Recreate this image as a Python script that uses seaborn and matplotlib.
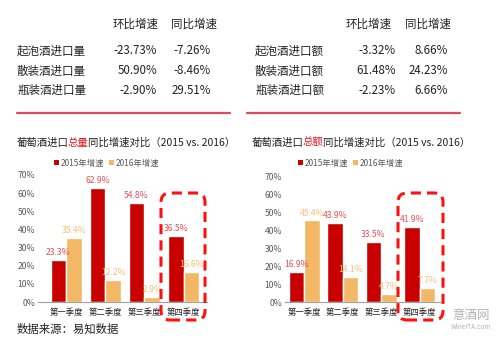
import matplotlib
matplotlib.use("Agg")
import matplotlib.pyplot as plt
import matplotlib.transforms as mtransforms
from matplotlib.patches import FancyBboxPatch, Patch
from matplotlib.lines import Line2D
import seaborn as sns
import pandas as pd

# ---------------- data ----------------
quarters = ["第一季度", "第二季度", "第三季度", "第四季度"]
series_names = ["2015年增速", "2016年增速"]
volume_2015 = [23.3, 62.9, 54.8, 36.5]
volume_2016 = [35.4, 12.2, 2.9, 16.6]
value_2015 = [16.9, 43.9, 33.5, 41.9]
value_2016 = [45.4, 14.1, 4.7, 7.7]
y_ticks = [0, 10, 20, 30, 40, 50, 60, 70]
y_tick_labels = ["0%", "10%", "20%", "30%", "40%", "50%", "60%", "70%"]

table_headers = ["环比增速", "同比增速"]
table_left_rows = ["起泡酒进口量", "散装酒进口量", "瓶装酒进口量"]
table_left_mom = ["-23.73%", "50.90%", "-2.90%"]
table_left_yoy = ["-7.26%", "-8.46%", "29.51%"]
table_right_rows = ["起泡酒进口额", "散装酒进口额", "瓶装酒进口额"]
table_right_mom = ["-3.32%", "61.48%", "-2.23%"]
table_right_yoy = ["8.66%", "24.23%", "6.66%"]

title_left = ["葡萄酒进口", "总量", "同比增速对比（2015 vs. 2016）"]
title_right = ["葡萄酒进口", "总额", "同比增速对比（2015 vs. 2016）"]
source_text = "数据来源：易知数据"

# ---------------- style ----------------
sns.set_theme(style="white")
plt.rcParams['font.family'] = ['Noto Sans CJK SC', 'DejaVu Sans']
plt.rcParams['axes.unicode_minus'] = False

RED = "#c80000"
ORANGE = "#f3b866"
RED_LBL = "#e0505a"
ORG_LBL = "#f3c27c"
TXT = "#222222"
GRAY = "#595959"

W, H = 500, 338
fig = plt.figure(figsize=(W / 100, H / 100), dpi=100)
fig.patch.set_facecolor("white")


def fx(x):
    return x / W


def fy(y):
    return 1 - y / H


# ---------------- tables ----------------
def draw_table(x_label, x_col1, x_col2, hdr1, hdr2, rows, mom, yoy):
    fs = 8.3
    fig.text(fx(hdr1), fy(24), table_headers[0], ha="center", va="center", fontsize=fs, color=TXT)
    fig.text(fx(hdr2), fy(24), table_headers[1], ha="center", va="center", fontsize=fs, color=TXT)
    for i, (r, a, b) in enumerate(zip(rows, mom, yoy)):
        yy = [51, 71, 90][i]
        fig.text(fx(x_label), fy(yy), r, ha="left", va="center", fontsize=fs, color=TXT)
        fig.text(fx(x_col1), fy(yy), a, ha="right", va="center", fontsize=fs, color=TXT)
        fig.text(fx(x_col2), fy(yy), b, ha="right", va="center", fontsize=fs, color=TXT)


draw_table(17, 157, 211, 136, 194, table_left_rows, table_left_mom, table_left_yoy)
draw_table(255, 396, 448, 369, 428, table_right_rows, table_right_mom, table_right_yoy)

ident = mtransforms.IdentityTransform()
for x0, x1 in [(17, 230), (247, 460)]:
    fig.add_artist(Line2D([x0, x1], [H - 113, H - 113], transform=ident,
                          color="#dc4a5e", lw=1.6))


# ---------------- rich titles ----------------
def draw_rich(x, y, parts, colors, fs):
    renderer = fig.canvas.get_renderer()
    cur = x
    for p, c in zip(parts, colors):
        t = fig.text(fx(cur), fy(y), p, ha="left", va="center", fontsize=fs, color=c)
        bb = t.get_window_extent(renderer=renderer)
        cur += bb.width - 1.0


draw_rich(17, 143, title_left, [TXT, "#e8141c", TXT], 7.5)
draw_rich(252, 143, title_right, [TXT, "#e8141c", TXT], 7.5)


# ---------------- bar charts ----------------
def draw_chart(rect, xlim, v15, v16, legend_x, box):
    ax = fig.add_axes(rect)
    df = pd.DataFrame({
        "季度": quarters * 2,
        "系列": [series_names[0]] * 4 + [series_names[1]] * 4,
        "值": list(v15) + list(v16),
    })
    sns.barplot(data=df, x="季度", y="值", hue="系列", order=quarters,
                hue_order=series_names, palette=[RED, ORANGE], width=0.8,
                saturation=1, ax=ax, legend=False)
    ax.set_xlim(*xlim)
    ax.set_ylim(0, 70)
    ax.set_yticks(y_ticks)
    ax.set_yticklabels(y_tick_labels)
    ax.set_xlabel("")
    ax.set_ylabel("")
    ax.tick_params(axis="y", length=0, pad=2, labelsize=6.2, labelcolor=GRAY)
    ax.tick_params(axis="x", length=0, pad=4, labelsize=6.0, labelcolor=TXT)
    for s in ["top", "right", "left"]:
        ax.spines[s].set_visible(False)
    ax.spines["bottom"].set_color("#a0a0a0")
    ax.spines["bottom"].set_linewidth(0.8)
    ax.set_facecolor("none")
    ax.grid(False)
    for cont, col in zip(ax.containers, [RED_LBL, ORG_LBL]):
        ax.bar_label(cont, labels=[f"{b.get_height():.1f}%" for b in cont],
                     padding=2, fontsize=6.2, color=col, clip_on=False)
    handles = [Patch(facecolor=RED, edgecolor="none"), Patch(facecolor=ORANGE, edgecolor="none")]
    fig.legend(handles, series_names, loc="center left",
               bbox_to_anchor=(fx(legend_x), fy(163)), ncol=2, frameon=False,
               fontsize=6.0, labelcolor=GRAY, handlelength=0.6, handleheight=0.6,
               handletextpad=0.2, columnspacing=0.6, borderpad=0, borderaxespad=0)
    bx0, by0, bx1, by1 = box
    fig.add_artist(FancyBboxPatch((bx0, H - by1), bx1 - bx0, by1 - by0,
                                  boxstyle="round,pad=0,rounding_size=9",
                                  transform=ident, fill=False, edgecolor="#ff1010",
                                  lw=2.2, linestyle=(0, (3.3, 2.0)), zorder=10))
    return ax


draw_chart([fx(38), fy(302), (207 - 38) / W, (302 - 175) / H], (-0.72, 3.6),
           volume_2015, volume_2016, 54, (161, 193, 205, 320))
draw_chart([fx(285), fy(302), (440 - 285) / W, (302 - 176) / H], (-0.5, 3.53),
           value_2015, value_2016, 298, (398, 193, 443, 320))

# ---------------- footer ----------------
fig.text(fx(17), fy(329), source_text, ha="left", va="center", fontsize=8.2, color=TXT)
fig.text(fx(471), fy(315), "意酒网", ha="center", va="center", fontsize=9, color="#b4b4b4")
fig.text(fx(471), fy(327), "WineITA.com", ha="center", va="center", fontsize=4.8, color="#b4b4b4")

fig.savefig("out.png", dpi=100, facecolor="white")
